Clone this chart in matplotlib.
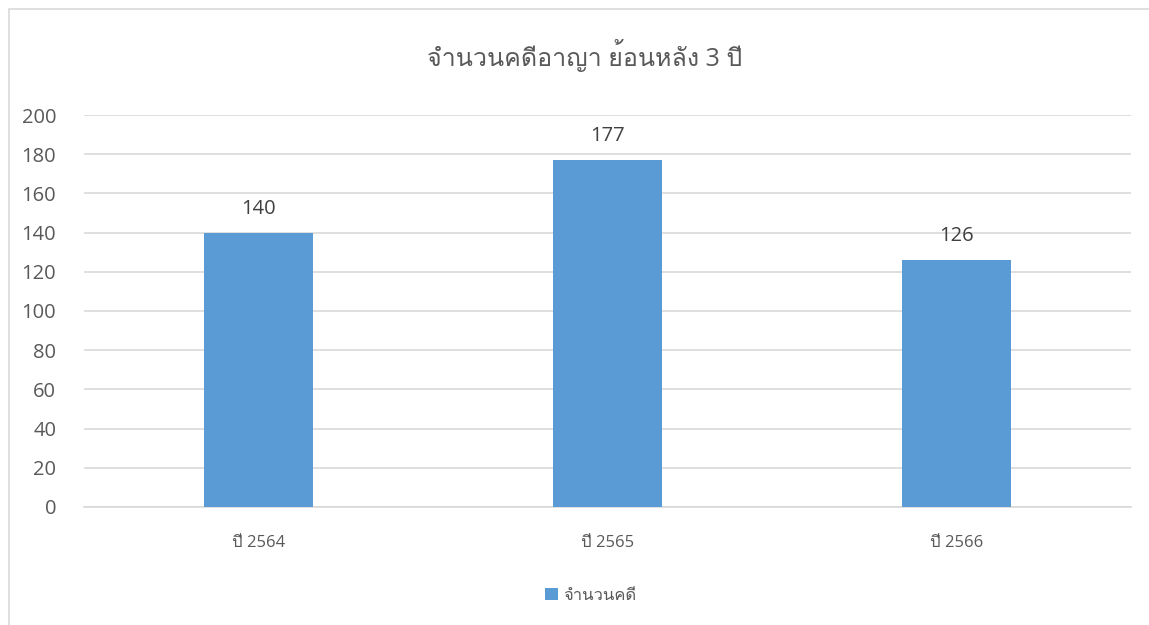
import matplotlib
matplotlib.use('Agg')
import matplotlib.pyplot as plt
from matplotlib import font_manager
from matplotlib.ft2font import FT2Font
from matplotlib.patches import Rectangle

years = ['ปี 2564', 'ปี 2565', 'ปี 2566']
cases = [140, 177, 126]
series_name = 'จำนวนคดี'
title = 'จำนวนคดีอาญา ย้อนหลัง 3 ปี'


def find_thai_family():
    # look for any installed font that has Thai glyphs
    for f in font_manager.fontManager.ttflist:
        try:
            cmap = FT2Font(f.fname).get_charmap()
        except Exception:
            continue
        if 0x0E08 in cmap and 0x0E35 in cmap:
            return f.name
    return None


thai = find_thai_family()
families = ['Open Sans', 'DejaVu Sans']
if thai:
    families = ['Open Sans', thai, 'DejaVu Sans']
plt.rcParams['font.family'] = families

fig = plt.figure(figsize=(11.49, 6.25), dpi=100, facecolor='white')
ax = fig.add_axes([0.0731, 0.1888, 0.9112, 0.6272])

x = range(len(years))
bars = ax.bar(x, cases, width=0.315, color='#5b9bd5', zorder=3, label=series_name)
for xi, v in zip(x, cases):
    ax.text(xi, v + 7, str(v), ha='center', va='bottom', fontsize=14.5, color='#404040')

ax.set_xlim(-0.5, 2.5)
ax.set_ylim(0, 200)
ax.set_yticks(range(0, 201, 20))
ax.set_xticks(list(x))
ax.set_xticklabels(years, fontsize=12, color='#595959')
ax.tick_params(axis='y', labelsize=14.5, labelcolor='#595959', length=0, pad=20)
ax.tick_params(axis='x', length=0, pad=20)
ax.grid(axis='y', color='#d9d9d9', linewidth=1.2, zorder=0)
for s in ['top', 'right', 'left']:
    ax.spines[s].set_visible(False)
ax.spines['bottom'].set_color('#d9d9d9')
ax.spines['bottom'].set_linewidth(1.2)

fig.text(0.509, 0.912, title, ha='center', va='center', fontsize=18, color='#595959')

leg = fig.legend(handles=[bars], labels=[series_name], loc='center', bbox_to_anchor=(0.514, 0.047),
                 frameon=False, fontsize=12, handlelength=0.8, handleheight=0.8, handletextpad=0.3)
for t in leg.get_texts():
    t.set_color('#595959')

# chart border
fig.patches.append(Rectangle((9 / 1149, -0.1), 1.2, 1.1 - 9 / 625, transform=fig.transFigure,
                             fill=False, edgecolor='#d9d9d9', linewidth=1.2))

plt.savefig('out.png', dpi=100)
